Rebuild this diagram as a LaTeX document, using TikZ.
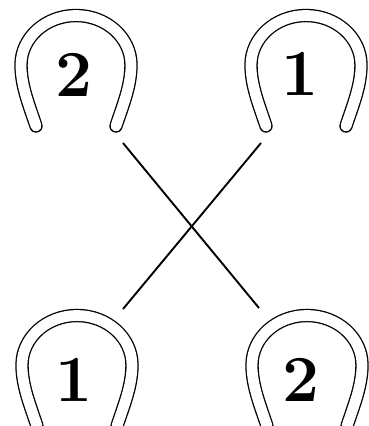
\documentclass[tikz,border=0pt]{standalone}
\begin{document}
\begin{tikzpicture}[x=1bp,y=-1bp,
  shoe/.style={draw=black,double=white,double distance=10.8bp,line width=1.3bp,line cap=round},
  digit/.style={inner sep=0pt,font=\fontsize{66}{66}\selectfont\bfseries},
  cross/.style={draw=black,line width=1.9bp},
  horseshoe/.pic={
    \path[shoe] (-40,58) .. controls (-46.6,38) and (-55,18) .. (-55,-3)
      .. controls (-55,-30.3) and (-30.4,-52.5) .. (0,-52.5)
      .. controls (30.4,-52.5) and (55,-30.3) .. (55,-3)
      .. controls (55,18) and (46.6,38) .. (40,58);
  }]
\useasboundingbox (0,0) rectangle (369,426);
\clip (0,0) rectangle (369,426);
\pic (shoeTL) at (76,68) {horseshoe};
\pic (shoeTR) at (306,68) {horseshoe};
\pic (shoeBL) at (77,368) {horseshoe};
\pic (shoeBR) at (307,368) {horseshoe};
\node[digit] (dTL) at (74,75) {2};
\node[digit] (dTR) at (300,74) {1};
\node[digit] (dBL) at (74,380) {1};
\node[digit] (dBR) at (301,380) {2};
\coordinate (a1) at (123,143);
\coordinate (a2) at (259,308);
\coordinate (b1) at (261,143);
\coordinate (b2) at (123,309);
\draw[cross] (a1) -- (a2);
\draw[cross] (b1) -- (b2);
\end{tikzpicture}
\end{document}
